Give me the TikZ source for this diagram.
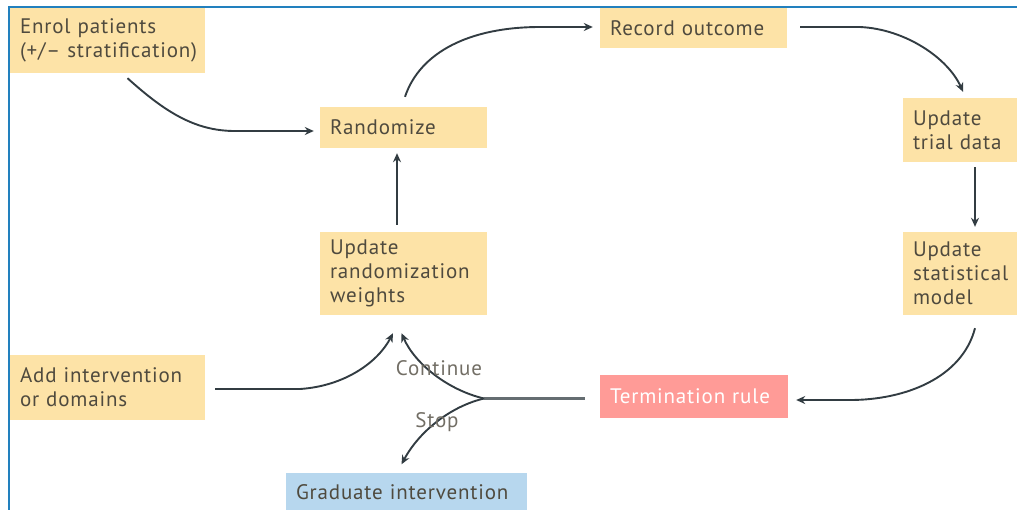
\documentclass[tikz,border=0pt]{standalone}
\usepackage{fontspec}
\setmainfont{PT Sans}[LetterSpace=4]
\usetikzlibrary{arrows.meta}
\definecolor{boxyellow}{HTML}{FDE3A7}
\definecolor{boxred}{HTML}{FF9B97}
\definecolor{boxblue}{HTML}{B7D7EE}
\definecolor{inktext}{HTML}{4F4A3E}
\definecolor{inkline}{HTML}{323C42}
\definecolor{frameblue}{HTML}{2280BE}
\tikzset{
  every node/.style={font=\fontsize{21}{24}\selectfont},
  stepbox/.style={fill=boxyellow, text=inktext, align=left, anchor=center,
    inner xsep=10pt, inner ysep=0pt},
  arr/.style={draw=inkline, line width=1.9pt,
    -{Stealth[length=9pt,width=8pt]}},
  plain/.style={draw=inkline!75, line width=2.4pt},
  lbl/.style={text=inktext!80, inner sep=0pt},
}
\begin{document}
\begin{tikzpicture}[x=1pt,y=-1pt]
\useasboundingbox (0,0) rectangle (1017,509);
\begin{scope}
\clip (0,0) rectangle (1017,509);

% boxes
\node[stepbox, text width=175pt, minimum height=65pt] (enrol) at (107.5,40.5)
  {Enrol patients\\(+/– stratification)};
\node[stepbox, text width=147pt, minimum height=41pt] (rand) at (403.5,127.5)
  {Randomize};
\node[stepbox, text width=167pt, minimum height=40pt] (record) at (693.5,28)
  {Record outcome};
\node[stepbox, text width=100pt, minimum height=64pt] (trial) at (963,130)
  {Update\\trial data};
\node[stepbox, text width=100pt, minimum height=83pt] (model) at (963,273.5)
  {Update\\statistical\\model};
\node[stepbox, text width=147pt, minimum height=83pt] (weights) at (403.5,273.5)
  {Update\\randomization\\weights};
\node[stepbox, text width=175pt, minimum height=65pt] (add) at (107.5,387.5)
  {Add intervention\\or domains};
\node[stepbox, fill=boxred, text=white, text width=168pt, minimum height=43pt]
  (term) at (694,396.5) {Termination rule};
\node[stepbox, fill=boxblue, text=inktext, text width=221pt, minimum height=39pt]
  (grad) at (406.5,492) {Graduate intervention};

% branch point after the termination rule
\coordinate (split) at (484,398.5);

% connectors
\draw[arr] ([xshift=20pt,yshift=-5pt]enrol.south)
  .. controls (165,112) and (195,131) .. (235,131) -- ([xshift=-6pt,yshift=-3.5pt]rand.west);
\draw[arr] ([xshift=1.5pt,yshift=10pt]rand.north)
  .. controls (420,52) and (470,27) .. (540,27) -- ([xshift=-7pt,yshift=1pt]record.west);
\draw[arr] ([xshift=13pt,yshift=1pt]record.east) -- (860,27)
  .. controls (905,29) and (948,58) .. ([yshift=6pt]trial.north);
\draw[arr] ([xshift=12pt,yshift=-5pt]trial.south) -- ([xshift=12pt,yshift=5pt]model.north);
\draw[arr] ([xshift=12pt,yshift=-13pt]model.south)
  .. controls (962,378) and (905,400) .. (850,400) -- ([xshift=8pt,yshift=-3.5pt]term.east);
\draw[arr] ([xshift=-6.5pt,yshift=7pt]weights.north) -- ([xshift=-6.5pt,yshift=-5pt]rand.south);
\draw[arr] ([xshift=10pt,yshift=-1.5pt]add.east) -- (300,389)
  .. controls (345,386) and (378,362) .. ([xshift=-10.5pt,yshift=-18pt]weights.south);
\draw[plain] ([xshift=-15pt,yshift=-2pt]term.west) -- (split);
\draw[arr] (split)
  .. controls (448,390) and (415,364) .. ([xshift=-2pt,yshift=-18pt]weights.south);
\draw[arr] (split)
  .. controls (452,406) and (420,430) .. ([xshift=-5pt,yshift=8pt]grad.north);

% branch labels
\node[lbl] (cont) at (439,368) {Continue};
\node[lbl] (stop) at (437,422) {Stop};

% frame
\draw[frameblue, line width=2pt] (9,520) -- (9,7) -- (1030,7);
\end{scope}
\end{tikzpicture}
\end{document}
